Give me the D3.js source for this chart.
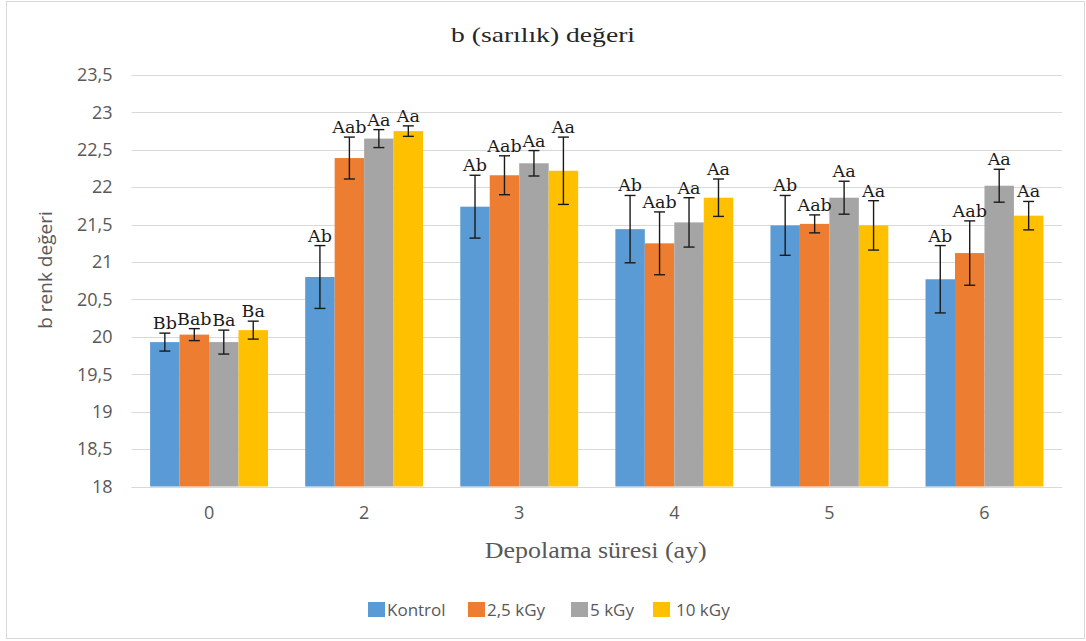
<!DOCTYPE html>
<html>
<head>
<meta charset="utf-8">
<script src="https://cdn.jsdelivr.net/npm/d3@7"></script>
<style>
  html, body { margin: 0; padding: 0; background: #ffffff; }
  svg { display: block; }
</style>
</head>
<body>
<svg id="chart" width="1086" height="641"></svg>
<script>
// Storage months on the x axis
const months = ["0", "2", "3", "4", "5", "6"];
const seriesNames = ["Kontrol", "2,5 kGy", "5 kGy", "10 kGy"];
const seriesColors = ["#5B9BD5", "#ED7D31", "#A5A5A5", "#FFC000"];

// Mean b values per dose, one entry per month
const kontrol = [19.93, 20.80, 21.74, 21.44, 21.49, 20.77];
const dose25  = [20.03, 22.39, 22.16, 21.25, 21.51, 21.12];
const dose5   = [19.93, 22.65, 22.32, 21.53, 21.86, 22.02];
const dose10  = [20.09, 22.75, 22.22, 21.86, 21.49, 21.62];

// Standard deviations (error bars)
const kontrolErr = [0.12, 0.42, 0.42, 0.45, 0.40, 0.45];
const dose25Err  = [0.08, 0.28, 0.26, 0.42, 0.12, 0.43];
const dose5Err   = [0.16, 0.12, 0.17, 0.33, 0.22, 0.22];
const dose10Err  = [0.12, 0.07, 0.45, 0.25, 0.33, 0.19];

// Significance letters
const kontrolSig = ["Bb", "Ab", "Ab", "Ab", "Ab", "Ab"];
const dose25Sig  = ["Bab", "Aab", "Aab", "Aab", "Aab", "Aab"];
const dose5Sig   = ["Ba", "Aa", "Aa", "Aa", "Aa", "Aa"];
const dose10Sig  = ["Ba", "Aa", "Aa", "Aa", "Aa", "Aa"];

const yTicks = [18, 18.5, 19, 19.5, 20, 20.5, 21, 21.5, 22, 22.5, 23, 23.5];

const values = [kontrol, dose25, dose5, dose10];
const errors = [kontrolErr, dose25Err, dose5Err, dose10Err];
const sigs = [kontrolSig, dose25Sig, dose5Sig, dose10Sig];

const rows = [];
months.forEach((m, i) => {
  seriesNames.forEach((s, j) => {
    rows.push({ month: m, series: s, si: j, value: values[j][i], err: errors[j][i], sig: sigs[j][i] });
  });
});

const svg = d3.select("#chart");
const plot = { left: 131.5, right: 1062, top: 75, bottom: 486.5 };
const sans = "'Open Sans', sans-serif";
const serif = "'Liberation Serif', serif";

// Chart frame
svg.append("rect")
  .attr("x", 6.5).attr("y", 1.5)
  .attr("width", 1078).attr("height", 637)
  .attr("fill", "#ffffff")
  .attr("stroke", "#d9d9d9").attr("stroke-width", 1);

const x = d3.scaleBand().domain(months)
  .range([plot.left, plot.right])
  .paddingInner(0.24).paddingOuter(0.12);
const xs = d3.scaleBand().domain(seriesNames).range([0, x.bandwidth()]);
const y = d3.scaleLinear().domain([18, 23.5]).range([plot.bottom, plot.top]);

const fmt = v => String(v).replace(".", ",");

// Gridlines
svg.append("g")
  .selectAll("line").data(yTicks).join("line")
  .attr("x1", plot.left).attr("x2", plot.right)
  .attr("y1", d => Math.round(y(d)) + 0.5).attr("y2", d => Math.round(y(d)) + 0.5)
  .attr("stroke", "#d9d9d9").attr("stroke-width", 1);

// Y axis tick labels
const yAxis = d3.axisLeft(y).tickValues(yTicks).tickFormat(fmt).tickSize(0).tickPadding(0);
const yg = svg.append("g").attr("transform", `translate(${plot.left - 19},0)`).call(yAxis);
yg.select(".domain").remove();
yg.selectAll("text")
  .attr("font-family", sans)
  .attr("font-size", 18).attr("fill", "#595959");

// Bars
svg.append("g").selectAll("rect").data(rows).join("rect")
  .attr("x", d => x(d.month) + xs(d.series))
  .attr("y", d => y(d.value))
  .attr("width", xs.bandwidth())
  .attr("height", d => y(18) - y(d.value))
  .attr("fill", d => seriesColors[d.si]);

// X axis line
svg.append("line")
  .attr("x1", plot.left).attr("x2", plot.right)
  .attr("y1", Math.round(y(18)) + 0.5).attr("y2", Math.round(y(18)) + 0.5)
  .attr("stroke", "#d9d9d9");

// Error bars
const eb = svg.append("g").selectAll("g").data(rows).join("g")
  .attr("stroke", "#1a1a1a").attr("stroke-width", 1.4);
const cx = d => x(d.month) + xs(d.series) + xs.bandwidth() / 2;
eb.append("line")
  .attr("x1", cx).attr("x2", cx)
  .attr("y1", d => y(d.value + d.err)).attr("y2", d => y(d.value - d.err));
eb.append("line")
  .attr("x1", d => cx(d) - 5.5).attr("x2", d => cx(d) + 5.5)
  .attr("y1", d => y(d.value + d.err)).attr("y2", d => y(d.value + d.err));
eb.append("line")
  .attr("x1", d => cx(d) - 5.5).attr("x2", d => cx(d) + 5.5)
  .attr("y1", d => y(d.value - d.err)).attr("y2", d => y(d.value - d.err));

// Significance letters above the error bars
svg.append("g").selectAll("text").data(rows).join("text")
  .attr("x", cx)
  .attr("y", d => y(d.value + d.err) - 4)
  .attr("text-anchor", "middle")
  .attr("font-family", "'DejaVu Serif', serif")
  .attr("font-size", 17.5)
  .attr("fill", "#1a1a1a")
  .text(d => d.sig);

// X axis labels
svg.append("g").selectAll("text").data(months).join("text")
  .attr("x", d => x(d) + x.bandwidth() / 2)
  .attr("y", 519)
  .attr("text-anchor", "middle")
  .attr("font-family", sans)
  .attr("font-size", 18).attr("fill", "#595959")
  .text(d => d);

// Chart title
svg.append("text")
  .attr("x", 543).attr("y", 42)
  .attr("text-anchor", "middle")
  .attr("font-family", serif)
  .attr("font-size", 22).attr("fill", "#262626")
  .attr("textLength", 184).attr("lengthAdjust", "spacingAndGlyphs")
  .text("b (sarılık) değeri");

// Axis titles
svg.append("text")
  .attr("x", (plot.left + plot.right) / 2 - 1).attr("y", 558)
  .attr("text-anchor", "middle")
  .attr("font-family", serif)
  .attr("font-size", 23).attr("fill", "#595959")
  .attr("textLength", 222).attr("lengthAdjust", "spacingAndGlyphs")
  .text("Depolama süresi (ay)");

svg.append("text")
  .attr("transform", "translate(52,270) rotate(-90)")
  .attr("text-anchor", "middle")
  .attr("font-family", sans)
  .attr("font-size", 19).attr("fill", "#595959")
  .text("b renk değeri");

// Legend
const legendX = [368, 468, 571, 653];
const lg = svg.append("g").selectAll("g").data(seriesNames).join("g")
  .attr("transform", (d, i) => `translate(${legendX[i]},602)`);
lg.append("rect").attr("width", 17).attr("height", 15)
  .attr("fill", (d, i) => seriesColors[i]);
lg.append("text")
  .attr("x", (d, i) => i === 3 ? 23 : 19).attr("y", 14)
  .attr("font-family", sans)
  .attr("font-size", 17).attr("fill", "#595959")
  .text(d => d);
</script>
</body>
</html>
